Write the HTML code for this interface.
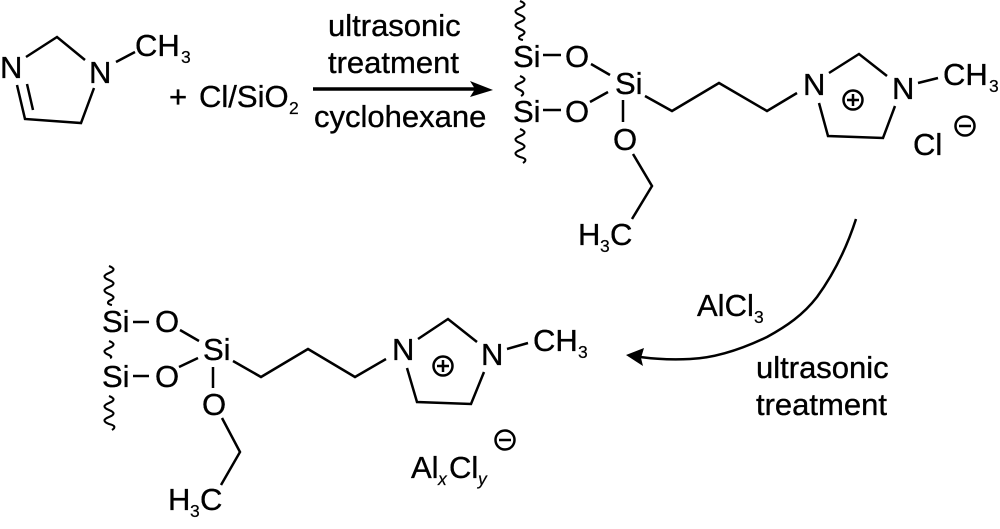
<!DOCTYPE html>
<html><head><meta charset="utf-8">
<style>
html,body{margin:0;padding:0;background:#fff;width:1000px;height:529px;overflow:hidden}
svg{display:block}
text{font-family:"Liberation Sans",sans-serif;font-size:31px;fill:#000;stroke:#000;stroke-width:.35}
.s{font-size:17.5px;stroke-width:.2}
.i{font-size:17.5px;font-style:italic;stroke-width:.2}
.l{fill:none;stroke:#000;stroke-width:2.5}
.w{fill:none;stroke:#000;stroke-width:2.1}
</style></head><body>
<svg width="1000" height="529" viewBox="0 0 1000 529" xmlns="http://www.w3.org/2000/svg">
<!-- Reactant -->
<polyline class="l" points="26,57 57,37 85,60"/>
<polyline class="l" points="94,88 81,123 25,119 17,85"/>
<line class="l" x1="27" y1="84" x2="33" y2="110"/>
<line class="l" x1="116" y1="62" x2="135" y2="52"/>
<text x="0" y="78">N</text>
<text x="89" y="83">N</text>
<text x="135" y="56">CH</text><text class="s" x="181" y="63">3</text>
<text x="169" y="107">+</text>
<text x="199" y="107">Cl/SiO</text><text class="s" x="289" y="114">2</text>
<text x="328" y="36">ultrasonic</text>
<text x="328" y="73">treatment</text>
<text x="314" y="127">cyclohexane</text>
<line x1="313" y1="89" x2="480" y2="89" stroke="#000" stroke-width="3.4"/>
<polygon points="470,81 493,90 470,97 475,89"/>

<!-- Product 1 -->
<path class="w" d="M520,1 q9,3.5 0,7 q-9,3.5 0,7 q9,3.5 0,7 q-9,3.5 0,7 q9,3.5 0,7 q-3,3 3,4"/>
<path class="w" d="M520,76 q9,3.5 0,7 q-9,3.5 0,7 q6,3 1,6"/>
<path class="w" d="M520,129 q9,3.5 0,7 q-9,3.5 0,7 q9,3.5 0,7 q-9,3.5 0,7 q9,2 3,6"/>
<text x="513" y="67">Si</text>
<text x="565" y="67">O</text>
<line class="l" x1="543" y1="55" x2="561" y2="55"/>
<text x="513" y="122">Si</text>
<text x="565" y="122">O</text>
<line class="l" x1="543" y1="110" x2="561" y2="110"/>
<text x="615" y="94">Si</text>
<line class="l" x1="591" y1="64" x2="610" y2="75"/>
<line class="l" x1="590" y1="102" x2="608" y2="92"/>
<line class="l" x1="623" y1="100" x2="623" y2="122"/>
<text x="613" y="150">O</text>
<polyline class="l" points="633,154 652,186 632,219"/>
<text x="578" y="245">H</text><text class="s" x="600" y="252">3</text><text x="610" y="245">C</text>
<polyline class="l" points="645,96 672,111 719,83 767,111 797,93"/>
<text x="803" y="95">N</text>
<polyline class="l" points="829,73 859,54 887,76"/>
<text x="892" y="99">N</text>
<polyline class="l" points="895,106 883,138 828,136 819,103"/>
<line class="l" x1="918" y1="83" x2="938" y2="78"/>
<text x="943" y="85">CH</text><text class="s" x="989" y="92">3</text>
<circle class="l" cx="853" cy="100" r="9.5"/>
<path class="l" d="M847,100 h12 M853,94 v12"/>
<circle class="l" cx="965" cy="126" r="9.5"/>
<path class="l" d="M959,126 h12"/>
<text x="913" y="155">Cl</text>

<!-- Curved arrow -->
<path d="M856,219 C846,250 833,275 817,297 C803,315 787,326 767,337 C742,349 715,358 690,359 C672,360 655,359 640,357" fill="none" stroke="#000" stroke-width="2.5"/>
<polygon points="626,355 644,348 641,358 643,366"/>
<text x="697" y="316">AlCl</text><text class="s" x="754" y="323">3</text>
<text x="756" y="378">ultrasonic</text>
<text x="756" y="415">treatment</text>

<!-- Product 2 -->
<path class="w" d="M109,266 q9,3.5 0,7 q-9,3.5 0,7 q9,3.5 0,7 q-9,3.5 0,7 q9,3.5 0,7 q-3,3 3,4"/>
<path class="w" d="M109,341 q9,3.5 0,7 q-9,3.5 0,7 q4,2 1,3"/>
<path class="w" d="M109,396 q9,3.5 0,7 q-9,3.5 0,7 q9,3.5 0,7 q-9,3.5 0,7 q9,2 3,6"/>
<text x="102" y="332">Si</text>
<text x="155" y="332">O</text>
<line class="l" x1="133" y1="322" x2="149" y2="322"/>
<text x="102" y="387">Si</text>
<text x="155" y="387">O</text>
<line class="l" x1="133" y1="376" x2="149" y2="376"/>
<text x="203" y="360">Si</text>
<line class="l" x1="180" y1="330" x2="199" y2="341"/>
<line class="l" x1="179" y1="367" x2="198" y2="358"/>
<line class="l" x1="213" y1="367" x2="213" y2="388"/>
<text x="202" y="415">O</text>
<polyline class="l" points="222,418 240,452 221,485"/>
<text x="168" y="510">H</text><text class="s" x="190" y="517">3</text><text x="200" y="510">C</text>
<polyline class="l" points="233,361 261,377 308,349 355,377 386,359"/>
<text x="392" y="360">N</text>
<polyline class="l" points="418,339 448,319 477,342"/>
<text x="481" y="365">N</text>
<polyline class="l" points="484,372 471,404 417,402 407,368"/>
<line class="l" x1="507" y1="349" x2="528" y2="343"/>
<text x="533" y="351">CH</text><text class="s" x="578" y="358">3</text>
<circle class="l" cx="443" cy="366" r="9.5"/>
<path class="l" d="M437,366 h12 M443,360 v12"/>
<circle class="l" cx="505" cy="440" r="9.5"/>
<path class="l" d="M499,440 h12"/>
<text x="411" y="478">Al</text><text class="i" x="438" y="485">x</text><text x="449" y="478">Cl</text><text class="i" x="478" y="485">y</text>
</svg>
</body></html>
